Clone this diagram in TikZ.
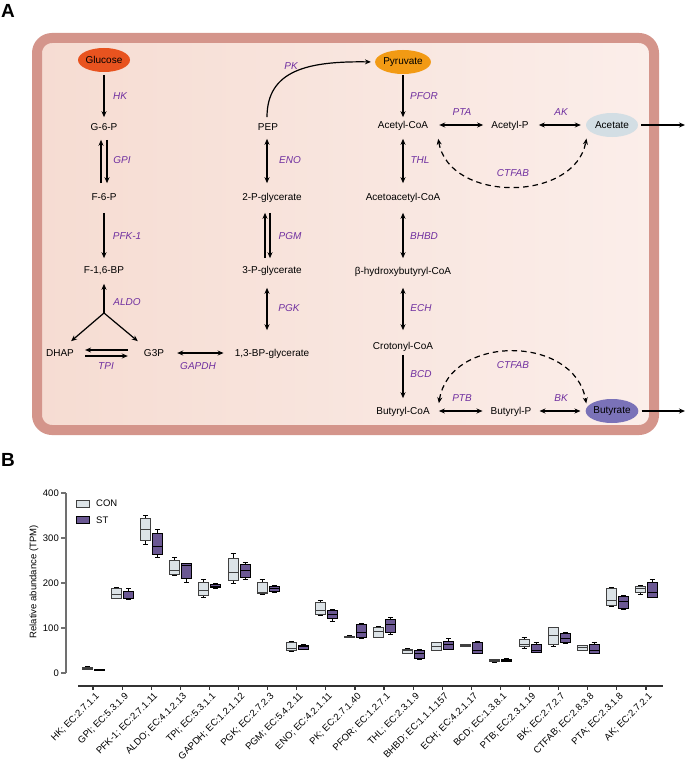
\documentclass[tikz,border=0pt]{standalone}
\usepackage{fontspec}
\setmainfont{Liberation Sans}
\usetikzlibrary{arrows.meta,shapes.geometric}
\definecolor{cellrim}{HTML}{D4958B}
\definecolor{cellleft}{HTML}{F6DCD2}
\definecolor{cellright}{HTML}{FBEEEA}
\definecolor{enzpurple}{HTML}{7030A0}
\definecolor{glcorange}{HTML}{E8531F}
\definecolor{pyrorange}{HTML}{F29A14}
\definecolor{acegrey}{HTML}{D3DEE4}
\definecolor{butpurple}{HTML}{7A72B8}
\definecolor{confill}{HTML}{DCE3E7}
\definecolor{stfill}{HTML}{6B5893}
\definecolor{axisgrey}{HTML}{707070}
\tikzset{
  met/.style={inner sep=0pt, text height=7.2pt, text depth=0pt, font=\fontsize{10}{12}\selectfont},
  enz/.style={inner sep=0pt, text height=7.2pt, text depth=0pt, text=enzpurple, font=\fontsize{10}{12}\selectfont\itshape},
  pool/.style={ellipse, inner sep=0pt, minimum width=52pt, minimum height=24pt, font=\fontsize{10}{12}\selectfont},
  rxn/.style={->, line width=1.2pt},
  rev/.style={<->, line width=1.2pt},
  ctf/.style={<->, line width=1.2pt, dash pattern=on 5.5pt off 4pt},
  tick/.style={inner sep=0pt, font=\fontsize{9.5}{11}\selectfont},
  panel/.style={inner sep=0pt, font=\fontsize{19}{22}\selectfont\bfseries},
  conbox/.style={draw=black!75, fill=confill, line width=1pt},
  stbox/.style={draw=black, fill=stfill, line width=1pt},
  whisk/.style={draw=black, line width=0.9pt},
}
\newcommand{\bxp}[7]{%
  \pgfmathsetmacro{\bxc}{#1}%
  \draw[whisk] (\bxc,#3) -- (\bxc,#7);
  \draw[whisk] ({\bxc-2.5},#3) -- ({\bxc+2.5},#3) ({\bxc-2.5},#7) -- ({\bxc+2.5},#7);
  \draw[#2] ({\bxc-5},#4) rectangle ({\bxc+5},#6);
  \draw[#2] ({\bxc-5},#5) -- ({\bxc+5},#5);
}
\begin{document}
\begin{tikzpicture}[x=1pt, y=-1pt, >={Stealth[length=6pt,width=5pt]}]
\useasboundingbox (0,0) rectangle (685,765);
\node[panel] (pA) at (8,11) {A};
\draw[line width=10pt, draw=cellrim, rounded corners=15pt, left color=cellleft, right color=cellright] (37,38) rectangle (654,430);

\node[pool, fill=glcorange] (glc) at (104,60) {Glucose};
\node[met] (g6p) at (104,127) {G-6-P};
\node[met] (f6p) at (104,197) {F-6-P};
\node[met] (fbp) at (104,270) {F-1,6-BP};
\coordinate (aldo) at (104,313);
\node[met] (dhap) at (60,353) {DHAP};
\node[met] (g3p) at (154,353) {G3P};
\node[met] (bpg) at (272,353) {1,3-BP-glycerate};
\node[met] (pg3) at (272,270) {3-P-glycerate};
\node[met] (pg2) at (272,197) {2-P-glycerate};
\node[met] (pep) at (268,127) {PEP};
\node[pool, fill=pyrorange] (pyr) at (403,62) {Pyruvate};
\node[met] (accoa) at (403,125) {Acetyl-CoA};
\node[met] (acp) at (510,125) {Acetyl-P};
\node[pool, fill=acegrey] (ace) at (612,125) {Acetate};
\coordinate (aceout) at (685,125);
\node[met] (aacoa) at (403,197) {Acetoacetyl-CoA};
\node[met] (hbcoa) at (403,271) {β-hydroxybutyryl-CoA};
\node[met] (crcoa) at (403,346) {Crotonyl-CoA};
\node[met] (bucoa) at (403,411) {Butyryl-CoA};
\node[met] (bup) at (511,411) {Butyryl-P};
\node[pool, fill=butpurple] (but) at (612,411) {Butyrate};
\coordinate (butout) at (685,411);

\draw[rxn, shorten <=3pt, shorten >=6pt] (glc) -- (g6p);
\draw[rxn, shorten <=9pt, shorten >=10pt] ([xshift=3pt]g6p.south) -- ([xshift=3pt]f6p.north);
\draw[rxn, shorten <=10pt, shorten >=9pt] ([xshift=-3pt]f6p.north) -- ([xshift=-3pt]g6p.south);
\draw[rxn, shorten <=12pt, shorten >=8pt] (f6p) -- (fbp);
\draw[rxn, shorten >=10pt] (aldo) -- (fbp);
\draw[rxn] (aldo) -- ([shift={(-3pt,8pt)}]dhap.north east);
\draw[rxn] (aldo) -- ([shift={(-6pt,8pt)}]g3p.north west);
\draw[rxn, shorten <=16pt, shorten >=11pt] ([yshift=3pt]g3p.west) -- ([yshift=3pt]dhap.east);
\draw[rxn, shorten <=11pt, shorten >=16pt] ([yshift=-3pt]dhap.east) -- ([yshift=-3pt]g3p.west);
\draw[rev, shorten <=13pt, shorten >=11pt] (g3p) -- (bpg);
\draw[rev, shorten <=14pt, shorten >=19pt] ([xshift=-5pt]pg3.south) -- ([xshift=-5pt]bpg.north);
\draw[rxn, shorten <=8pt, shorten >=12pt] ([xshift=-7pt]pg3.north) -- ([xshift=-7pt]pg2.south);
\draw[rxn, shorten <=12pt, shorten >=8pt] ([xshift=-2pt]pg2.south) -- ([xshift=-2pt]pg3.north);
\draw[rev, shorten <=8pt, shorten >=10pt] ([xshift=-1pt]pep.south) -- ([xshift=-5pt]pg2.north);
\draw[rxn, shorten >=4pt] ([shift={(-1pt,6pt)}]pep.north) .. controls +(0,-47) and +(-67,-1) .. (pyr.west);
\draw[rxn, shorten <=1pt, shorten >=4pt] (pyr) -- (accoa);
\draw[rev, shorten <=10pt, shorten >=10pt] (accoa) -- (aacoa);
\draw[rev, shorten <=12pt, shorten >=9pt] (aacoa) -- (hbcoa);
\draw[rev, shorten <=13pt, shorten >=12pt] (hbcoa) -- (crcoa);
\draw[rxn, shorten <=5pt, shorten >=9pt] (crcoa) -- (bucoa);
\draw[rev, shorten <=11pt, shorten >=8pt] (accoa) -- (acp);
\draw[rev, shorten <=10pt, shorten >=5pt] (acp) -- (ace);
\draw[rxn, shorten <=3pt] (ace) -- (aceout);
\draw[rev, shorten <=9pt, shorten >=8pt] (bucoa) -- (bup);
\draw[rev, shorten <=8pt, shorten >=5pt] (bup) -- (but);
\draw[rxn, shorten <=3pt] (but) -- (butout);
\draw[ctf] ([shift={(10pt,-10pt)}]accoa.south east) .. controls +(11,64) and +(-12,64) .. ([shift={(-7pt,-5pt)}]ace.south west);
\draw[ctf] ([shift={(9pt,4pt)}]bucoa.north east) .. controls +(11,-69) and +(-12,-69) .. ([shift={(-7pt,-1pt)}]but.north west);

\node[enz] (hk) at (120,96) {HK};
\node[enz] (gpi) at (122,160) {GPI};
\node[enz] (pfk) at (127,236) {PFK-1};
\node[enz] (aldolab) at (127,302) {ALDO};
\node[enz] (tpi) at (106,366) {TPI};
\node[enz] (gapdh) at (198,366) {GAPDH};
\node[enz] (pgk) at (289,308) {PGK};
\node[enz] (pgm) at (290,236) {PGM};
\node[enz] (eno) at (290,160) {ENO};
\node[enz] (pk) at (291,66) {PK};
\node[enz] (pfor) at (424,96) {PFOR};
\node[enz] (pta) at (462,112) {PTA};
\node[enz] (ak) at (561,112) {AK};
\node[enz] (thl) at (420,160) {THL};
\node[enz] (ctfa) at (513,173) {CTFAB};
\node[enz] (bhbd) at (424,236) {BHBD};
\node[enz] (ech) at (421,308) {ECH};
\node[enz] (bcd) at (421,374) {BCD};
\node[enz] (ctfb) at (513,365) {CTFAB};
\node[enz] (ptb) at (462,398) {PTB};
\node[enz] (bk) at (561,398) {BK};

\node[panel] (pB) at (8,460) {B};
\draw[axisgrey, line width=1.2pt] (66,493) -- (66,673);
\foreach \v in {0,100,200,300,400} {
  \draw[axisgrey, line width=1.2pt] (61,{673-0.45*\v}) -- (66,{673-0.45*\v});
  \node[tick, anchor=east] (yl\v) at (59,{673-0.45*\v}) {\v};
}
\node[tick, rotate=90] (ylab) at (34,582) {Relative abundance (TPM)};
\node[conbox, minimum width=13pt, minimum height=7pt, inner sep=0pt] (lgcon) at (82.5,503.5) {};
\node[tick, anchor=west] (lgcontxt) at (96,503.5) {CON};
\node[stbox, minimum width=13pt, minimum height=7pt, inner sep=0pt] (lgst) at (82.5,520) {};
\node[tick, anchor=west] (lgsttxt) at (96,520) {ST};
\draw[black!80, line width=1.2pt] (78,686) -- (663,686);
\foreach \lbl [count=\i from 0] in {{HK; EC:2.7.1.1},{GPI; EC:5.3.1.9},{PFK-1; EC:2.7.1.11},{ALDO; EC:4.1.2.13},{TPI; EC:5.3.1.1},{GAPDH; EC:1.2.1.12},{PGK; EC:2.7.2.3},{PGM; EC:5.4.2.11},{ENO; EC:4.2.1.11},{PK; EC:2.7.1.40},{PFOR; EC:1.2.7.1},{THL; EC:2.3.1.9},{BHBD; EC:1.1.1.157},{ECH; EC:4.2.1.17},{BCD; EC:1.3.8.1},{PTB; EC:2.3.1.19},{BK; EC:2.7.2.7},{CTFAB; EC:2.8.3.8},{PTA; EC:2.3.1.8},{AK; EC:2.7.2.1}} {
  \draw[black!80, line width=1.2pt] ({93+29.1*\i},686) -- ({93+29.1*\i},690);
  \node[tick, rotate=45, anchor=north east] (xl\i) at ({95+29.1*\i},692) {\lbl};
}
\begin{scope}[shift={(0,673)}, y=0.45pt]
\foreach \wa/\qa/\ma/\ua/\va/\wb/\qb/\mb/\ub/\vb [count=\i from 0] in {
  7/8/10/13/14/5/6/7/8/9, 165/166/175/188/191/163/165/166/182/187,
  285/295/320/343/351/257/263/281/311/320, 217/218/228/250/256/202/210/240/243/244,
  167/172/183/202/207/189/190/193/197/198, 200/205/223/255/265/208/213/228/242/246,
  175/177/180/202/208/180/181/187/193/194, 48/50/55/67/70/52/53/58/62/63,
  128/130/139/157/161/115/121/131/140/141, 78/79/80/82/83/77/78/90/107/110,
  79/80/93/102/103/85/91/108/119/124, 43/44/49/53/54/31/33/43/51/52,
  50/51/60/67/68/52/53/63/71/76, 60/60/62/64/64/43/44/51/67/70,
  24/25/28/31/31/25/26/28/31/32, 55/58/64/75/78/45/46/51/64/68,
  60/64/84/102/102/65/67/76/87/90, 50/51/57/62/62/43/44/51/64/68,
  149/151/162/187/191/142/144/158/171/173, 175/178/187/193/195/167/167/180/202/207} {
  \bxp{93+29.1*\i-5.5}{conbox}{\wa}{\qa}{\ma}{\ua}{\va}
  \bxp{93+29.1*\i+6.5}{stbox}{\wb}{\qb}{\mb}{\ub}{\vb}
}
\end{scope}
\end{tikzpicture}
\end{document}
